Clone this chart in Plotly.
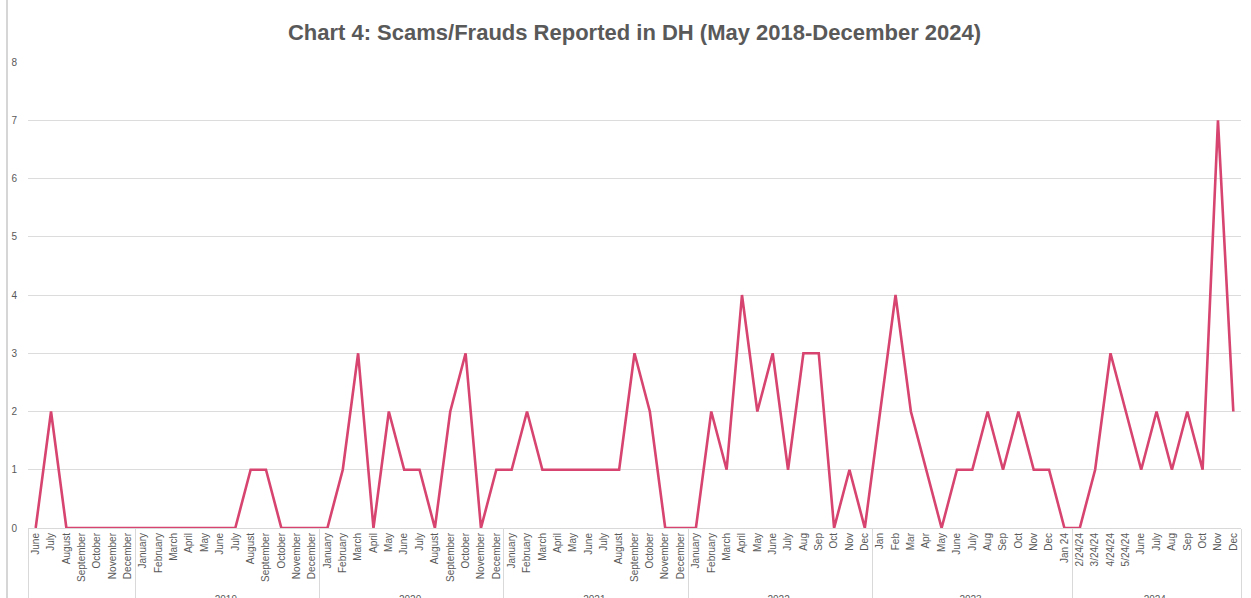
import plotly.graph_objects as go

years_2018 = [" "] * 7
months_2018 = ["June", "July", "August", "September", "October", "November", "December"]
values_2018 = [0, 2, 0, 0, 0, 0, 0]

full_months = ["January", "February", "March", "April", "May", "June", "July",
               "August", "September", "October", "November", "December"]
values_2019 = [0, 0, 0, 0, 0, 0, 0, 1, 1, 0, 0, 0]
values_2020 = [0, 1, 3, 0, 2, 1, 1, 0, 2, 3, 0, 1]
values_2021 = [1, 2, 1, 1, 1, 1, 1, 1, 3, 2, 0, 0]

months_2022 = ["January", "February", "March", "April", "May", "June", "July",
               "Aug", "Sep", "Oct", "Nov", "Dec"]
values_2022 = [0, 2, 1, 4, 2, 3, 1, 3, 3, 0, 1, 0]

months_2023 = ["Jan", "Feb", "Mar", "Apr", "May", "June", "July", "Aug", "Sep",
               "Oct", "Nov", "Dec", "Jan 24"]
values_2023 = [2, 4, 2, 1, 0, 1, 1, 2, 1, 2, 1, 1, 0]

months_2024 = ["2/24/24", "3/24/24", "4/24/24", "5/24/24", "June", "July", "Aug",
               "Sep", "Oct", "Nov", "Dec"]
values_2024 = [0, 1, 3, 2, 1, 2, 1, 2, 1, 7, 2]

year_groups = (years_2018 + ["2019"] * 12 + ["2020"] * 12 + ["2021"] * 12
               + ["2022"] * 12 + ["2023"] * 13 + ["2024"] * 11)
month_labels = (months_2018 + full_months * 3 + months_2022 + months_2023 + months_2024)
values = (values_2018 + values_2019 + values_2020 + values_2021 + values_2022
          + values_2023 + values_2024)

# plotly orders multicategory inner labels by first appearance across the whole
# series, so make repeated month names unique with invisible zero-width suffixes
seen = {}
unique_labels = []
for m in month_labels:
    n = seen.get(m, 0)
    seen[m] = n + 1
    unique_labels.append(m + "\u200b" * n)

n_cats = len(values)

fig = go.Figure()
fig.add_trace(go.Scatter(
    x=[year_groups, unique_labels],
    y=values,
    mode="lines",
    line=dict(color="#d6446f", width=2.6),
    hoverinfo="y",
))

fig.update_layout(
    width=1251, height=598,
    margin=dict(l=28, r=10, t=62, b=70),
    paper_bgcolor="white", plot_bgcolor="white",
    font=dict(family="Liberation Sans, Arial, sans-serif", color="#595959", size=10),
    title=dict(
        text="<b>Chart 4: Scams/Frauds Reported in DH (May 2018-December 2024)</b>",
        x=0.5, xref="paper", y=1 - 32 / 598, yanchor="middle",
        font=dict(size=22, color="#595959", family="Liberation Sans, Arial, sans-serif"),
    ),
    showlegend=False,
    xaxis=dict(
        type="multicategory",
        automargin=False,
        range=[-0.5, n_cats - 0.5],
        tickangle=-90,
        tickfont=dict(size=10, color="#595959"),
        showline=True, linecolor="#d9d9d9", linewidth=1,
        showgrid=False,
        showdividers=True, dividercolor="#d9d9d9", dividerwidth=1,
        ticks="",
    ),
    yaxis=dict(
        automargin=False,
        range=[0, 8], dtick=1,
        showgrid=True, gridcolor="#dcdcdc", gridwidth=1,
        zeroline=False,
        tickfont=dict(size=10, color="#595959"),
        ticks="", ticklabelstandoff=10,
    ),
    shapes=[dict(type="line", xref="paper", yref="paper",
                 x0=-21 / 1213, x1=-21 / 1213, y0=-0.16, y1=1.14,
                 line=dict(color="#c8c8c8", width=1.5))],
)

fig.write_html(
    "out.html",
    config={"displayModeBar": False},
    post_script="document.body.style.margin='0';document.body.style.overflow='hidden';",
)
